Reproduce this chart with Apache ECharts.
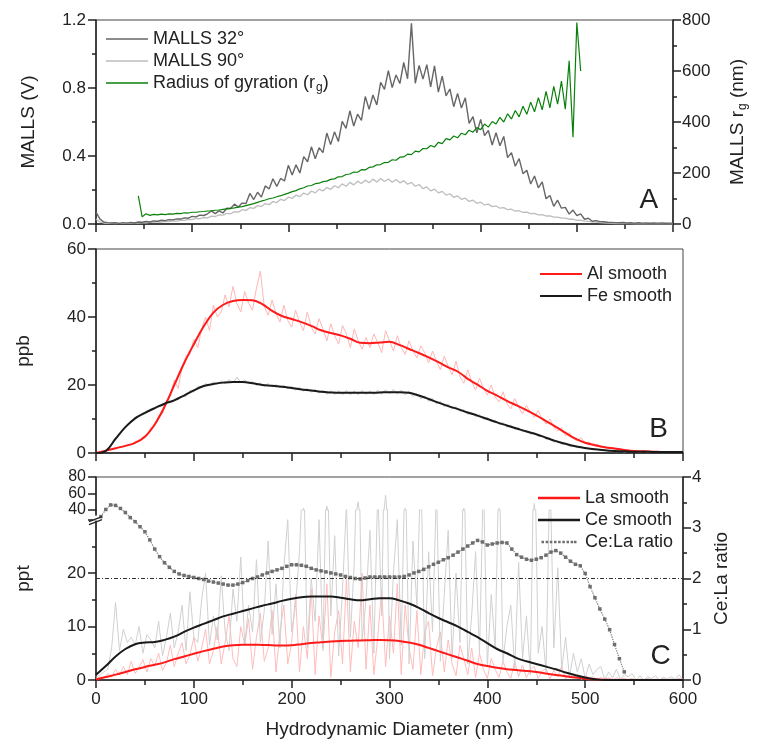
<!DOCTYPE html>
<html>
<head>
<meta charset="utf-8">
<script src="https://cdn.jsdelivr.net/npm/echarts@6.0.0/dist/echarts.min.js"></script>
<style>html,body{margin:0;padding:0;background:#fff}#main{width:757px;height:741px}</style>
</head>
<body>
<div id="main"></div>
<script>
// raw traces sampled every 4 nm from 0 nm (rg from 44 nm), smooth fits every 10 nm, ratio every 5 nm from 5 nm
var malls32 = [0.07,0.03,0.012,0.008,0.006,0.007,0.004,0.008,0.005,0.009,
  0.006,0.012,0.010,0.015,0.012,0.018,0.016,0.022,0.020,0.026,
  0.024,0.030,0.029,0.036,0.034,0.045,0.042,0.052,0.050,0.060,
  0.077,0.061,0.077,0.065,0.093,0.091,0.117,0.100,0.123,0.121,
  0.180,0.144,0.187,0.158,0.224,0.206,0.266,0.221,0.268,0.253,
  0.345,0.288,0.348,0.300,0.396,0.366,0.454,0.384,0.449,0.420,
  0.535,0.467,0.542,0.485,0.604,0.563,0.666,0.576,0.646,0.610,
  0.750,0.674,0.759,0.700,0.833,0.792,0.902,0.802,0.877,0.826,
  0.950,0.854,1.180,0.828,0.933,0.852,0.937,0.807,0.930,0.776,
  0.870,0.754,0.794,0.690,0.768,0.682,0.742,0.592,0.632,0.536,
  0.615,0.520,0.550,0.465,0.537,0.460,0.515,0.390,0.420,0.340,
  0.385,0.296,0.316,0.235,0.282,0.213,0.248,0.148,0.168,0.104,
  0.140,0.093,0.098,0.058,0.082,0.049,0.060,0.028,0.034,0.016,
  0.020,0.014,0.013,0.010,0.009,
  0.008,0.007,0.009,0.006,0.007,0.005,0.007,0.005,0.006,0.004,0.006,0.005,0.006,0.004,0.005,0.005];
var malls90 = [0.03,0.012,0.006,0.004,0.005,0.003,0.005,0.004,0.006,0.004,
  0.006,0.005,0.008,0.007,0.010,0.009,0.012,0.011,0.015,0.014,
  0.018,0.017,0.022,0.021,0.027,0.026,0.033,0.031,0.038,0.036,
  0.046,0.044,0.054,0.052,0.063,0.060,0.073,0.070,0.084,0.080,
  0.096,0.092,0.108,0.103,0.120,0.114,0.132,0.126,0.145,0.138,
  0.158,0.150,0.170,0.161,0.182,0.172,0.194,0.183,0.205,0.194,
  0.215,0.204,0.225,0.213,0.236,0.222,0.245,0.230,0.252,0.238,
  0.258,0.243,0.264,0.247,0.268,0.250,0.265,0.246,0.262,0.242,
  0.255,0.234,0.245,0.222,0.232,0.208,0.218,0.195,0.205,0.183,
  0.192,0.170,0.178,0.157,0.165,0.145,0.152,0.133,0.140,0.122,
  0.128,0.112,0.117,0.102,0.106,0.093,0.096,0.084,0.087,0.076,
  0.078,0.068,0.070,0.061,0.062,0.054,0.055,0.047,0.048,0.040,
  0.041,0.034,0.034,0.028,0.028,0.022,0.022,0.017,0.016,0.012,
  0.011,0.008,0.007,0.005,0.004,
  0.003,0.002,0.003,0.002,0.002,0.001,0.002,0.001,0.002,0.001,0.001,0.001,0.002,0.001,0.001,0.001];
var rg = [110,28,40,34,38,36,39,37,40,39,
  42,41,44,43,46,46,48,49,51,52,
  54,55,57,59,61,63,66,68,72,76,
  80,85,90,94,99,102,107,111,116,121,
  127,131,138,142,149,151,158,160,166,168,
  175,177,185,186,194,196,204,203,213,212,
  222,224,232,233,241,242,252,250,262,263,
  274,272,286,283,296,295,308,302,320,315,
  335,330,345,338,356,350,368,360,378,370,
  392,380,402,392,418,400,432,412,445,420,
  462,430,478,440,495,448,520,455,540,470,
  560,450,640,340,790,600];
var alRaw = [0,0.3,0.6,0.8,1.4,1.2,1.9,1.8,2.6,2.4,
  3.4,3.3,4.8,5.0,7.5,7.8,11.0,11.5,15.5,16.5,
  21.5,19.0,25.0,28.5,29.0,33.5,31.0,36.5,40.0,36.0,
  43.5,40.0,41.5,46.5,43.0,49.0,44.0,41.5,47.5,44.0,
  42.0,48.5,53.5,43.0,40.5,45.0,41.0,38.5,43.5,39.0,
  37.0,42.0,38.5,36.0,41.5,37.0,35.0,39.5,36.5,33.0,
  38.0,34.5,32.0,37.5,35.0,31.0,36.5,33.0,30.5,34.0,
  31.0,35.0,32.5,29.5,36.0,33.0,30.0,34.5,31.0,29.0,
  33.0,30.0,28.0,31.5,29.5,26.5,30.0,27.0,24.5,28.5,
  25.5,23.0,27.0,22.5,20.5,24.5,21.0,18.5,22.0,19.0,
  17.0,20.0,16.5,15.0,18.0,14.5,13.0,16.0,13.5,11.5,
  14.0,12.0,10.5,12.5,10.0,8.5,10.0,7.5,6.5,7.5,
  5.0,6.0,4.2,3.5,4.5,2.8,3.2,2.2,2.6,1.6,
  2.0,1.3,1.6,1.0,1.3,0.7,1.0,0.5,0.8,0.4,
  0.7,0.3,0.6,0.2,0.5,0.2,0.5,0.2,0.5,0.2,
  0.4];
var feRaw = [0,0.2,0.4,1.2,2.6,3.8,5.6,6.8,8.5,9.0,
  10.5,10.8,11.9,11.8,12.9,12.8,14.0,13.8,15.0,14.7,
  15.9,15.6,17.0,16.6,18.4,17.9,19.6,19.1,20.4,19.8,
  20.9,20.2,21.3,20.4,21.6,20.6,22.3,20.7,21.5,20.5,
  21.0,19.9,20.6,19.6,20.4,19.4,20.1,19.2,19.9,18.9,
  19.6,18.5,19.3,18.2,19.0,17.9,18.7,17.6,18.4,17.3,
  18.3,17.2,18.3,17.1,18.4,17.1,18.3,17.1,18.4,17.2,
  18.3,17.2,18.5,17.3,18.6,17.4,18.7,17.3,18.5,17.1,
  18.1,16.6,17.5,15.9,16.8,15.2,16.0,14.4,15.2,13.6,
  14.4,12.9,13.6,12.2,12.8,11.4,12.0,10.6,11.3,9.9,
  10.5,9.2,9.7,8.4,9.0,7.6,8.2,6.9,7.4,6.2,
  6.7,5.5,6.0,4.8,5.2,4.0,4.4,3.2,3.6,2.5,
  2.9,1.9,2.3,1.5,1.8,1.2,1.4,0.9,1.1,0.7,
  0.9,0.5,0.7,0.4,0.6,0.3,0.5,0.3,0.5,0.2,
  0.5,0.2,0.4,0.2,0.4,0.2,0.4,0.2,0.4,0.2,
  0.4];
var laRaw = [0.2,0.6,0.3,1.2,0.5,2.0,0.9,2.5,1.0,3.5,
  1.2,2.4,3.8,1.5,4.0,2.6,5.0,1.8,3.2,6.5,
  2.5,5.0,7.0,3.0,4.6,8.0,3.5,6.0,9.5,3.0,
  5.5,10.0,3.0,7.0,12.0,4.0,2.5,10.0,6.5,11.5,
  2.0,8.0,12.5,3.5,6.0,13.0,1.5,9.0,14.0,3.0,
  7.0,16.0,1.5,10.0,4.0,17.0,1.0,12.0,6.0,18.0,
  0.5,9.0,13.0,3.0,19.0,1.5,11.0,6.0,20.0,2.0,
  14.0,1.0,8.0,17.0,2.5,12.0,5.0,18.0,1.0,14.0,
  6.0,2.0,13.0,1.0,9.0,11.0,0.8,6.0,9.0,1.5,
  7.5,3.0,0.8,6.5,4.0,1.0,6.0,0.5,5.0,2.0,
  0.3,4.0,2.0,0.5,3.5,1.5,0.3,3.5,0.6,2.8,
  0.4,2.0,2.5,0.3,1.6,2.2,0.2,1.8,0.6,2.6,
  0.2,1.2,0.5,1.0,0.1,0.8,0.4,0.6,0.05,0.5,
  0.05,0.4,0,0.4,0.2,0.3,0.1,0.3,0,0.2,
  0.1,0.3,0,0.2,0.1,0.3,0,0.2,0.1,0.3,
  0.1];
var ceRaw = [0.5,1.0,1.5,2.0,6.0,14.5,5.5,9.5,7.0,8.0,
  6.5,10.0,5.0,8.5,7.5,6.0,11.0,4.5,8.0,12.5,
  6.0,9.0,14.0,5.5,16.5,8.0,7.0,15.0,20.0,6.5,
  12.0,7.5,19.5,9.0,5.5,17.0,11.0,23.0,6.5,14.0,
  9.0,22.5,7.0,13.0,26.0,8.5,18.0,6.0,21.0,30.0,
  9.0,14.0,24.0,42.0,6.0,19.0,11.0,30.0,5.5,45.0,
  12.0,27.0,4.5,17.0,33.0,8.0,22.0,50.0,7.5,15.0,
  28.0,5.0,36.0,12.0,58.0,4.0,20.0,30.0,6.5,42.0,
  3.0,26.0,14.0,40.0,4.0,24.0,9.0,36.0,3.5,16.0,
  28.0,4.0,20.0,7.0,42.0,3.0,12.0,24.0,5.0,38.0,
  2.5,16.0,6.0,42.0,3.5,10.0,14.0,2.0,22.0,4.0,
  12.0,1.0,48.0,5.0,10.0,1.5,40.0,6.0,21.0,2.0,
  8.0,0.5,5.0,1.5,4.0,0.3,3.0,1.0,2.0,2.5,
  0.1,1.5,0.4,2.0,0.1,1.0,0.6,1.2,0,0.8,
  0,0.6,0.3,0.8,0,0.5,0.2,0.6,0.1,1.0,
  0];
var alSmooth = [0,0.7,1.4,2.1,3.0,4.8,8.4,13.6,20.0,26.4,32.0,37.2,41.3,43.6,44.7,45.0,44.9,43.8,41.8,40.3,
  39.4,38.5,37.4,36.1,35.3,34.6,33.6,32.4,32.3,32.5,32.7,31.8,30.6,29.4,28.1,26.7,25.2,23.9,21.8,20.1,
  18.3,16.9,15.3,14.0,12.6,11.1,9.4,7.7,5.9,4.2,3.0,2.3,1.7,1.3,0.9,0.6,0.5,0.4,0.3,0.3,0.3];
var feSmooth = [0,0.6,4.2,7.6,10.2,11.8,13.2,14.5,15.5,16.9,18.4,19.7,20.3,20.7,20.9,20.9,20.5,20.0,19.8,19.5,
  19.1,18.7,18.4,18.0,17.8,17.7,17.7,17.7,17.7,17.8,17.9,17.9,17.7,16.9,15.9,14.8,13.8,12.9,11.9,11.0,
  10.0,9.0,8.1,7.2,6.3,5.5,4.5,3.5,2.7,2.0,1.5,1.1,0.8,0.6,0.5,0.4,0.4,0.3,0.3,0.3,0.3];
var ceSmooth = [1.0,2.6,4.4,5.8,6.7,7.0,7.1,7.5,8.1,9.0,9.8,10.5,11.2,11.9,12.4,12.9,13.4,13.9,14.3,14.8,
  15.2,15.5,15.6,15.6,15.6,15.4,15.1,14.9,15.1,15.3,15.3,14.9,14.3,13.5,12.5,11.6,10.8,10.0,9.0,8.0,
  6.9,5.8,5.0,4.1,3.5,3.0,2.5,2.0,1.4,0.9,0.45,0.15,0,0,0,0,0,0,0,0,0];
var laSmooth = [0.1,0.55,1.0,1.5,2.0,2.45,2.85,3.3,3.9,4.4,4.9,5.4,5.85,6.25,6.5,6.6,6.6,6.55,6.5,6.45,
  6.5,6.7,6.9,7.05,7.2,7.3,7.35,7.4,7.45,7.5,7.45,7.3,7.0,6.6,6.0,5.4,4.8,4.2,3.6,3.0,
  2.6,2.3,2.0,1.85,1.7,1.5,1.2,0.95,0.7,0.45,0.25,0.12,0.05,0,0,0,0,0,0,0,0];
var ratio = [3.22,3.36,3.45,3.44,3.38,3.30,3.20,3.12,3.02,2.92,
  2.76,2.58,2.43,2.31,2.22,2.14,2.09,2.06,2.04,2.02,
  2.00,1.98,1.95,1.93,1.91,1.89,1.87,1.87,1.89,1.92,
  1.96,2.00,2.03,2.07,2.11,2.14,2.17,2.20,2.24,2.27,
  2.27,2.26,2.24,2.20,2.17,2.15,2.13,2.11,2.09,2.07,
  2.04,2.02,2.00,1.99,2.01,2.03,2.03,2.03,2.03,2.03,
  2.03,2.03,2.04,2.07,2.11,2.14,2.18,2.23,2.28,2.32,
  2.37,2.41,2.46,2.52,2.58,2.64,2.70,2.75,2.72,2.66,
  2.68,2.70,2.71,2.70,2.58,2.47,2.42,2.38,2.36,2.38,
  2.41,2.46,2.52,2.55,2.50,2.42,2.34,2.28,2.25,2.10,
  1.84,1.62,1.40,1.20,0.99,0.70,0.42,0.16];

function pts(x0, step, ys) {
  return ys.map(function (y, i) { return [x0 + i * step, y]; });
}

var FONT = 'Liberation Sans, Arial, sans-serif';
var INK = '#222';
var chart = echarts.init(document.getElementById('main'));

function xAx(grid, labels) {
  return {
    type: 'value', gridIndex: grid, min: 0, max: 600, interval: 100,
    name: labels ? 'Hydrodynamic Diameter (nm)' : '',
    nameLocation: 'middle', nameGap: 40,
    nameTextStyle: { fontFamily: FONT, fontSize: 19, color: INK },
    axisLine: { onZero: false, lineStyle: { color: INK, width: 1.5 } },
    axisTick: { length: 8, lineStyle: { color: INK, width: 1.5 } },
    minorTick: { show: true, splitNumber: 2, length: 5, lineStyle: { color: INK, width: 1.5 } },
    axisLabel: { show: labels, margin: 11, fontFamily: FONT, fontSize: 17, color: INK },
    splitLine: { show: false }
  };
}
function yAx(grid, o) {
  return {
    type: 'value', gridIndex: grid, min: o.min, max: o.max, interval: o.interval,
    position: o.pos || 'left',
    name: o.name || '', nameLocation: 'middle', nameGap: o.gap || 60, nameRotate: 90,
    nameTextStyle: { fontFamily: FONT, fontSize: 19, color: INK, rich: o.rich },
    axisLine: { show: true, lineStyle: { color: INK, width: 1.5 } },
    axisTick: { length: 8, lineStyle: { color: INK, width: 1.5 } },
    minorTick: { show: o.minor !== false, splitNumber: 2, length: 4, lineStyle: { color: INK, width: 1.5 } },
    axisLabel: { margin: o.pos === 'right' ? 9 : 10, fontFamily: FONT, fontSize: o.fs || 17, color: INK,
      formatter: o.fmt, showMinLabel: true, showMaxLabel: true, hideOverlap: false },
    splitLine: { show: false }
  };
}
function line(name, x, y, data, color, width, extra) {
  var s = {
    name: name, type: 'line', xAxisIndex: x, yAxisIndex: y, data: data,
    symbol: 'none', smooth: false, clip: true,
    lineStyle: { color: color, width: width }, itemStyle: { color: color },
    emphasis: { disabled: true }
  };
  for (var k in extra) s[k] = extra[k];
  return s;
}

var rgRich = {
  a: { fontFamily: FONT, fontSize: 19, color: INK },
  s: { fontFamily: FONT, fontSize: 12, color: INK, verticalAlign: 'top', padding: [10, 0, 0, 1] }
};
var legRich = {
  n: { fontFamily: FONT, fontSize: 18, color: INK },
  s: { fontFamily: FONT, fontSize: 12, color: INK, verticalAlign: 'top', padding: [9, 0, 0, 1] }
};
var ratioIcon = 'path://M0,0h3v3h-3z M5,0h3v3h-3z M10,0h3v3h-3z M15,0h3v3h-3z M20,0h3v3h-3z M25,0h3v3h-3z M30,0h3v3h-3z M35,0h3v3h-3z M39,0h3v3h-3z';

var option = {
  animation: false,
  backgroundColor: '#fff',
  grid: [
    { left: 96, right: 74, top: 20, height: 204, show: true, borderColor: '#444', borderWidth: 1 },
    { left: 96, right: 74, top: 249, height: 204, show: true, borderColor: '#444', borderWidth: 1 },
    { left: 96, right: 74, top: 477, height: 203, show: true, borderColor: '#444', borderWidth: 1 },
    { left: 96, right: 74, top: 510, height: 170 },
    { left: 96, right: 74, top: 477, height: 33 }
  ],
  xAxis: [xAx(0, false), xAx(1, false), xAx(2, true),
    { type: 'value', gridIndex: 3, min: 0, max: 600, show: false },
    { type: 'value', gridIndex: 4, min: 0, max: 600, show: false }],
  yAxis: [
    yAx(0, { min: 0, max: 1.2, interval: 0.4, name: 'MALLS (V)', gap: 58, fmt: function (v) { return v.toFixed(1); } }),
    yAx(0, { min: 0, max: 800, interval: 200, pos: 'right', name: '{a|MALLS r}{s|g}{a| (nm)}', gap: 54, rich: rgRich }),
    yAx(1, { min: 0, max: 60, interval: 20, name: 'ppb', gap: 63 }),
    { type: 'value', gridIndex: 2, min: 0, max: 1, name: 'ppt', nameLocation: 'middle', nameGap: 63, nameRotate: 90,
      nameTextStyle: { fontFamily: FONT, fontSize: 19, color: INK },
      axisLine: { show: false }, axisTick: { show: false }, axisLabel: { show: false }, splitLine: { show: false } },
    yAx(2, { min: 0, max: 4, interval: 1, pos: 'right', name: 'Ce:La ratio', gap: 28 }),
    yAx(3, { min: 0, max: 31.8, interval: 10, fmt: function (v) { return v <= 20 ? String(v) : ''; } }),
    yAx(4, { min: 40, max: 80, interval: 20, minor: false, fs: 16 })
  ],
  legend: [
    { left: 101, top: 25, orient: 'vertical', itemWidth: 42, itemHeight: 1.5, itemGap: 4, icon: 'rect', selectedMode: false,
      data: ['MALLS 32°', 'MALLS 90°', 'Radius of gyration (rg)'],
      formatter: function (n) { return n === 'Radius of gyration (rg)' ? '{n|Radius of gyration (r}{s|g}{n|)}' : '{n|' + n + '}'; },
      textStyle: { fontFamily: FONT, fontSize: 18, color: INK, rich: legRich } },
    { left: 535, top: 260, orient: 'vertical', itemWidth: 42, itemHeight: 2, itemGap: 4, icon: 'rect', selectedMode: false,
      data: ['Al smooth', 'Fe smooth'],
      textStyle: { fontFamily: FONT, fontSize: 18, color: INK } },
    { left: 533, top: 484, orient: 'vertical', itemWidth: 42, itemHeight: 2.5, itemGap: 4, selectedMode: false,
      data: [{ name: 'La smooth', icon: 'rect' }, { name: 'Ce smooth', icon: 'rect' }, { name: 'Ce:La ratio', icon: ratioIcon }],
      textStyle: { fontFamily: FONT, fontSize: 18, color: INK } }
  ],
  series: [
    line('MALLS 90°', 0, 0, pts(0, 4, malls90), '#bdbdbd', 1.3),
    line('MALLS 32°', 0, 0, pts(0, 4, malls32), '#666666', 1.4),
    line('Radius of gyration (rg)', 0, 1, pts(44, 4, rg), '#0a800a', 1.2),
    line('Al raw', 1, 2, pts(0, 4, alRaw), '#ffb6b6', 1),
    line('Fe raw', 1, 2, pts(0, 4, feRaw), '#c4c4c4', 1),
    line('Al smooth', 1, 2, pts(0, 10, alSmooth), '#ff1a1a', 2, { smooth: 0.4 }),
    line('Fe smooth', 1, 2, pts(0, 10, feSmooth), '#1a1a1a', 2, { smooth: 0.4 }),
    line('La raw', 3, 5, pts(0, 4, laRaw), '#ffbcbc', 1),
    line('Ce raw', 3, 5, pts(0, 4, ceRaw), '#d0d0d0', 1),
    line('Ce raw upper', 4, 6, pts(0, 4, ceRaw), '#d0d0d0', 1),
    line('La smooth', 3, 5, pts(0, 10, laSmooth), '#ff1a1a', 2, { smooth: 0.4 }),
    line('Ce smooth', 3, 5, pts(0, 10, ceSmooth), '#1a1a1a', 2, { smooth: 0.4 }),
    line('Ce:La ratio', 2, 4, pts(5, 5, ratio), '#6e6e6e', 1.2, {
      symbol: 'rect', symbolSize: 3.5, showAllSymbol: true,
      lineStyle: { color: '#7a7a7a', width: 1.2, type: 'dotted' },
      markLine: {
        silent: true, symbol: ['none', 'none'], label: { show: false },
        lineStyle: { color: '#333', width: 1, type: [4, 2, 1, 2] },
        data: [{ yAxis: 2 }]
      }
    })
  ]
};
chart.setOption(option);

// panel letters and the axis-break mark on the ppt axis
var bx = chart.convertToPixel({ xAxisIndex: 3 }, 0);
var by = chart.convertToPixel({ yAxisIndex: 5 }, 30);
function letter(t, xv, yv, xi, yi) {
  return { type: 'text', x: chart.convertToPixel({ xAxisIndex: xi }, xv), y: chart.convertToPixel({ yAxisIndex: yi }, yv),
    style: { text: t, font: '28px ' + FONT, fill: INK, textAlign: 'center', textVerticalAlign: 'middle' } };
}
chart.setOption({
  graphic: [
    letter('A', 575, 0.14, 0, 0),
    letter('B', 575, 7, 1, 2),
    letter('C', 577, 4.4, 3, 5),
    { type: 'rect', shape: { x: bx - 3, y: by - 4, width: 6, height: 5 }, style: { fill: '#fff' }, z: 100 },
    { type: 'line', shape: { x1: bx - 7, y1: by + 2, x2: bx + 6, y2: by - 3 }, style: { stroke: INK, lineWidth: 1.2 }, z: 101 },
    { type: 'line', shape: { x1: bx - 7, y1: by + 5, x2: bx + 6, y2: by }, style: { stroke: INK, lineWidth: 1.2 }, z: 101 }
  ]
});
</script>
</body>
</html>
